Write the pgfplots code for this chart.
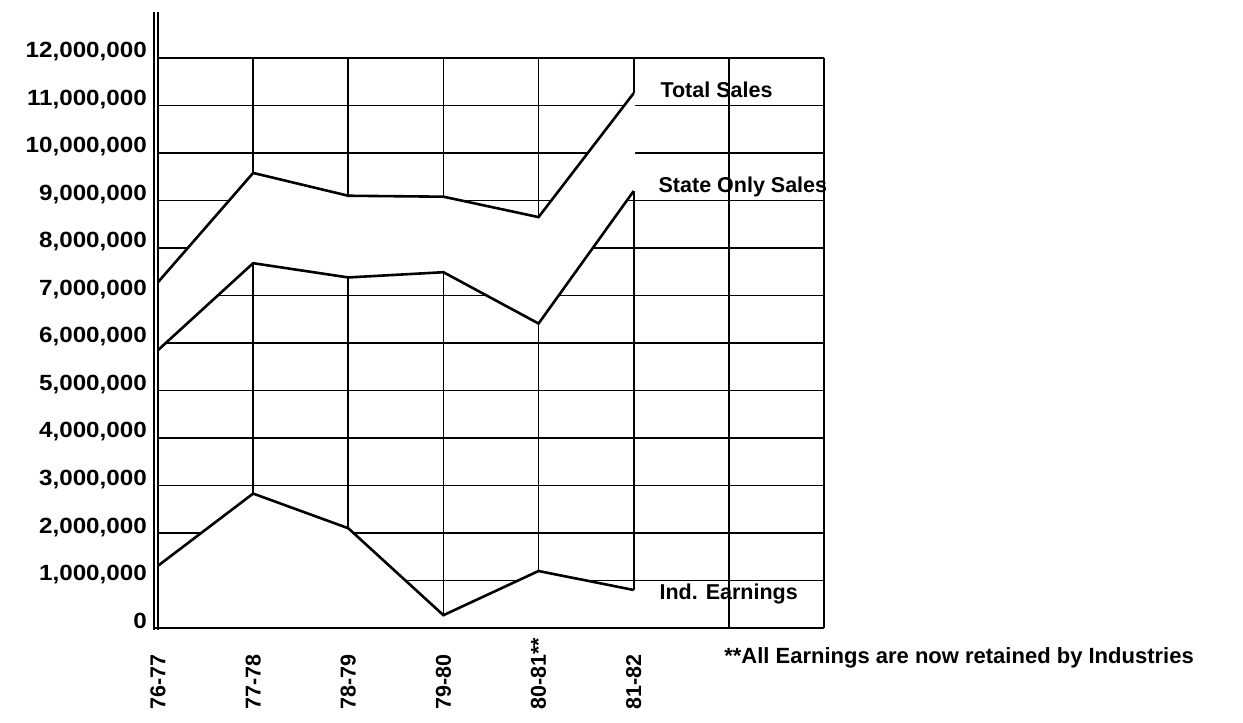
\documentclass[border=0pt]{standalone}
\usepackage{pgfplots}
\pgfplotsset{compat=1.18}
\usepackage{fontspec}
\setmainfont{Liberation Sans}
\newfontfamily\tickfont{Liberation Sans}[FakeStretch=1.1]
\begin{document}
\begin{tikzpicture}
\useasboundingbox (-158bp,-95bp) rectangle (1085bp,628bp);
\begin{axis}[
  at={(0,0)}, anchor=south west,
  scale only axis, width=666bp, height=570bp,
  xmin=0, xmax=7, ymin=0, ymax=12000000,
  xtick={0,1,2,3,4,5,6,7},
  xticklabels={76-77,77-78,78-79,79-80,{80-81**},81-82,{},{}},
  ytick={0,1000000,2000000,3000000,4000000,5000000,6000000,7000000,8000000,9000000,10000000,11000000,12000000},
  scaled y ticks=false,
  grid=major,
  grid style={black, line width=1.7bp},
  axis line style={draw=none},
  major tick length=0pt,
  clip=false,
  yticklabel style={font=\tickfont\bfseries\fontsize{22bp}{24bp}\selectfont, anchor=base east, inner sep=0pt, xshift=-11bp,
    /pgf/number format/fixed, /pgf/number format/1000 sep={,}, /pgf/number format/assume math mode=true},
  xticklabel style={font=\bfseries\fontsize{21.5bp}{24bp}\selectfont, yshift=-82bp, rotate=90, anchor=west, inner sep=0pt},
]
% white band between Total and State sales
\addplot[fill=white, draw=none] coordinates {
  (0,7280000) (1,9580000) (2,9100000) (3,9080000) (4,8650000) (5,11260000) (5.015,11260000)
  (5.015,9200000) (5,9200000) (4,6410000) (3,7490000) (2,7380000) (1,7680000) (0,5850000) (0,7280000)};
% white area under Ind. Earnings
\addplot[fill=white, draw=none] coordinates {
  (0,1310000) (1,2830000) (2,2100000) (3,270000) (4,1200000) (5,800000) (5.015,800000)} \closedcycle;
% Total Sales
\addplot[black, line width=2.6bp, line join=miter] coordinates {
  (0,7280000) (1,9580000) (2,9100000) (3,9080000) (4,8650000) (5,11260000)};
% State Only Sales
\addplot[black, line width=2.6bp, line join=miter] coordinates {
  (0,5850000) (1,7680000) (2,7380000) (3,7490000) (4,6410000) (5,9200000)};
% Ind. Earnings
\addplot[black, line width=2.6bp, line join=miter] coordinates {
  (0,1310000) (1,2830000) (2,2100000) (3,270000) (4,1200000) (5,800000)};
% frame lines
\draw[line width=1.4bp] (axis cs:0,-40000) -- (axis cs:0,12970000);
\draw[line width=1.4bp] ([xshift=-4bp]axis cs:0,-40000) -- ([xshift=-4bp]axis cs:0,12970000);
\draw[line width=2.6bp] ([xshift=-4bp]axis cs:0,0) -- (axis cs:7,0);
\draw[line width=1.8bp] (axis cs:7,0) -- (axis cs:7,12000000);
% labels
\node[anchor=base west, inner sep=0pt, font=\bfseries\fontsize{21.5bp}{24bp}\selectfont] at (axis cs:5.28,11160000) {Total Sales};
\node[anchor=base west, inner sep=0pt, font=\bfseries\fontsize{21.5bp}{24bp}\selectfont] at (axis cs:5.26,9160000) {State Only Sales};
\node[anchor=base west, inner sep=0pt, font=\bfseries\fontsize{21.5bp}{24bp}\selectfont] at (axis cs:5.27,590000) {Ind. Earnings};
\node[anchor=base west, inner sep=0pt, font=\bfseries\fontsize{22bp}{24bp}\selectfont] at (axis cs:5.95,-737000) {**All Earnings are now retained by Industries};
\end{axis}
\end{tikzpicture}
\end{document}
